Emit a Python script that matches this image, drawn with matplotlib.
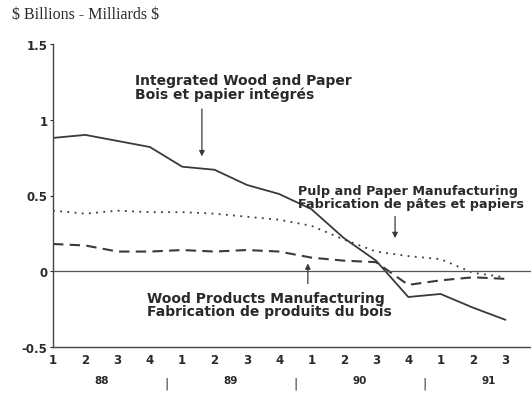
import matplotlib
matplotlib.use("Agg")
import matplotlib.pyplot as plt

# quarters 88Q1 .. 91Q3
quarter_labels = ["1", "2", "3", "4", "1", "2", "3", "4", "1", "2", "3", "4", "1", "2", "3", "4"]
year_labels = ["88", "89", "90", "91"]
integrated = [0.88, 0.90, 0.86, 0.82, 0.69, 0.67, 0.57, 0.51, 0.41, 0.22, 0.07, -0.17, -0.15, -0.24, -0.32]
pulp_paper = [0.40, 0.38, 0.40, 0.39, 0.39, 0.38, 0.36, 0.34, 0.30, 0.21, 0.13, 0.10, 0.08, -0.01, -0.04]
wood_products = [0.18, 0.17, 0.13, 0.13, 0.14, 0.13, 0.14, 0.13, 0.09, 0.07, 0.06, -0.09, -0.06, -0.04, -0.05]

plt.rcParams['font.family'] = ['DejaVu Sans']
line_col = "#3a3a3a"
text_col = "#2a2a2a"

fig = plt.figure(figsize=(5.31, 4.06), dpi=100)
ax = fig.add_axes([53 / 531, 1 - 348 / 406, (15 * 32.3) / 531, 303 / 406])

x = list(range(len(integrated)))
ax.plot(x, integrated, color=line_col, lw=1.3, ls='-')
ax.plot(x, pulp_paper, color=line_col, lw=1.3, ls=(0, (1, 3)))
ax.plot(x, wood_products, color=line_col, lw=1.5, ls=(0, (5, 3)))
ax.axhline(0, color="#555555", lw=0.9)

ax.set_xlim(0, 15)
ax.set_ylim(-0.5, 1.5)
ax.set_yticks([-0.5, 0, 0.5, 1, 1.5])
ax.set_yticklabels(["-0.5", "0", "0.5", "1", "1.5"])
ax.set_xticks(range(16))
ax.set_xticklabels(quarter_labels)
ax.tick_params(axis='x', length=0, pad=4, labelsize=8.5, colors=text_col)
ax.tick_params(axis='y', length=2, pad=2, labelsize=8.5, colors=text_col)
for lab in ax.get_xticklabels() + ax.get_yticklabels():
    lab.set_fontweight('bold')

for s in ['top', 'right']:
    ax.spines[s].set_visible(False)
for s in ['left', 'bottom']:
    ax.spines[s].set_color("#444444")
    ax.spines[s].set_linewidth(1.0)

trans = ax.get_xaxis_transform()
for i, yl in enumerate(year_labels):
    ax.text(1.5 + 4 * i, -0.11, yl, transform=trans, ha='center', va='center',
            fontsize=7.5, fontweight='bold', color=text_col)
for i in range(3):
    ax.text(3.5 + 4 * i, -0.12, "|", transform=trans, ha='center', va='center',
            fontsize=9, color=text_col)

arrow = dict(arrowstyle='-|>', color=line_col, lw=0.9, mutation_scale=8)
ax.text(2.54, 1.215, "Integrated Wood and Paper\nBois et papier intégrés",
        ha='left', va='center', fontsize=10, fontweight='bold', color=text_col, linespacing=0.95)
ax.annotate("", xy=(4.61, 0.74), xytext=(4.61, 1.09), arrowprops=arrow)

ax.text(7.59, 0.49, "Pulp and Paper Manufacturing\nFabrication de pâtes et papiers",
        ha='left', va='center', fontsize=9.2, fontweight='bold', color=text_col, linespacing=1.0)
ax.annotate("", xy=(10.59, 0.20), xytext=(10.59, 0.38), arrowprops=arrow)

ax.text(2.91, -0.22, "Wood Products Manufacturing\nFabrication de produits du bois",
        ha='left', va='center', fontsize=10, fontweight='bold', color=text_col, linespacing=0.95)
ax.annotate("", xy=(7.89, 0.07), xytext=(7.89, -0.10), arrowprops=arrow)

fig.text(12 / 531, 1 - 15 / 406, "\\$ Billions - Milliards \\$", ha='left', va='center',
         fontsize=11.5, family=['Liberation Serif', 'DejaVu Serif'], color=text_col)

fig.savefig("out.png", dpi=100)
